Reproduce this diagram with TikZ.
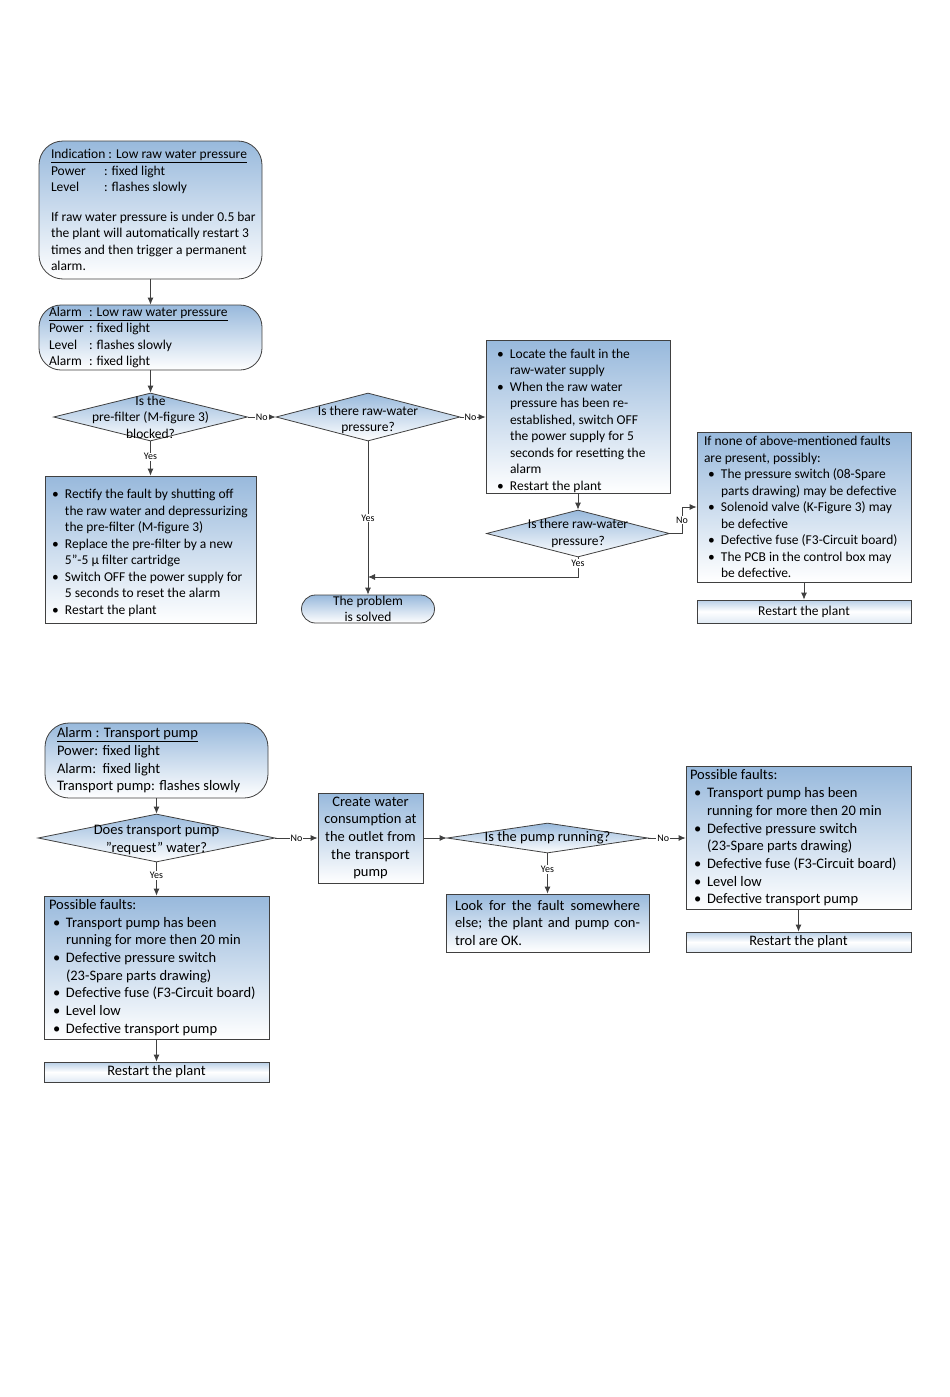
\documentclass[tikz,border=0pt]{standalone}
\usepackage{fontspec}
\setmainfont{Carlito}
\usetikzlibrary{shapes.geometric,arrows.meta}
\definecolor{boxblue}{RGB}{152,185,220}
\definecolor{edge}{RGB}{64,64,64}
\newcommand\upfont{\fontsize{13.5}{16.5}\selectfont}
\newcommand\lowfont{\fontsize{14.5}{17.7}\selectfont}
\newcommand\bul{\par\noindent\hangindent=17pt\hangafter=1\hbox to 17pt{\hskip4pt\textbullet\hfil}}
\begin{document}
\begin{tikzpicture}[x=1pt,y=-1pt,>={Latex[length=7pt,width=6pt]}]
  \tikzstyle{every node}=[inner ysep=1pt]
  \tikzstyle{box}=[draw=edge,line width=0.8pt,top color=boxblue,bottom color=white,align=left,execute at begin node={\spaceskip=0pt\xspaceskip=0pt}]
  \tikzstyle{rbox}=[box,rounded corners=24pt]
  \tikzstyle{decision}=[diamond,draw=edge,line width=0.8pt,top color=boxblue,bottom color=white,inner sep=0pt]
  \tikzstyle{restartbox}=[draw=edge,line width=0.8pt,top color=boxblue!70,bottom color=boxblue!30,middle color=white]
  \tikzstyle{yn}=[fill=white,inner sep=1pt,font=\fontsize{10}{11}\selectfont]
  \tikzstyle{link}=[->,draw=edge,line width=0.8pt]
  \fill[white] (0,0) rectangle (950,1397);

  \node[rbox,minimum width=223pt,minimum height=138pt,text width=199pt,inner xsep=12pt,font=\upfont] (indication) at (150.5,210) {\underline{Indication : Low raw water pressure}\\
    \makebox[53pt][l]{Power}: fixed light\\
    \makebox[53pt][l]{Level}: flashes slowly\\[13pt]
    \mbox{If raw water pressure is under 0.5 bar}\\
    the plant will automatically restart 3\\
    times and then trigger a permanent\\
    alarm.};
  \node[rbox,rounded corners=22pt,minimum width=223pt,minimum height=65pt,text width=203pt,inner xsep=10pt,inner ysep=0pt,font=\upfont] (alarm) at (150.5,337.5) {\underline{\makebox[40pt][l]{Alarm}: Low raw water pressure}\\
    \makebox[40pt][l]{Power}: fixed light\\
    \makebox[40pt][l]{Level}: flashes slowly\\
    \makebox[40pt][l]{Alarm}: fixed light};
  \node[decision,minimum width=194pt,minimum height=48pt,label={[font=\upfont,align=center]center:Is the\\pre-filter (M-figure 3)\\blocked?}] (filter) at (150.5,417) {};
  \node[decision,minimum width=184pt,minimum height=48pt,label={[font=\upfont,align=center,yshift=-3pt]center:Is there raw-water\\pressure?}] (pressure) at (368,417) {};
  \node[box,minimum width=184pt,minimum height=149pt,text width=170pt,inner xsep=7pt,font=\upfont] (locate) at (578,417) {\bul Locate the fault in the\newline raw-water supply
    \bul When the raw water\newline pressure has been re-\newline established, switch OFF\newline the power supply for 5\newline seconds for resetting the\newline alarm
    \bul Restart the plant\par};
  \node[decision,minimum width=183pt,minimum height=47pt,label={[font=\upfont,align=center]center:Is there raw-water\\pressure?}] (pressure2) at (578,533.5) {};
  \node[box,rounded corners=14pt,minimum width=133pt,minimum height=28pt,inner sep=0pt,label={[font=\upfont,align=center]center:The problem\\is solved}] (solved) at (368,609) {};
  \node[box,minimum width=211pt,minimum height=147pt,text width=205pt,inner xsep=3pt,font=\upfont] (rectify) at (150.5,549.5) {\bul Rectify the fault by shutting off\newline the raw water and depressurizing\newline the pre-filter (M-figure 3)
    \bul Replace the pre-filter by a new\newline 5”-5 µ filter cartridge
    \bul Switch OFF the power supply for\newline 5 seconds to reset the alarm
    \bul Restart the plant\par};
  \node[box,minimum width=214pt,minimum height=150pt,text width=200pt,inner xsep=7pt,font=\upfont] (nofault) at (804,507) {If none of above-mentioned faults\newline are present, possibly:
    \bul The pressure switch (08-Spare\newline parts drawing) may be defective
    \bul Solenoid valve (K-Figure 3) may\newline be defective
    \bul Defective fuse (F3-Circuit board)
    \bul The PCB in the control box may\newline be defective.\par};
  \node[restartbox,minimum width=214pt,minimum height=23pt,font=\upfont] (restart1) at (804,611.5) {Restart the plant};

  \draw[link] (indication) -- (alarm);
  \draw[link] (alarm) -- (filter);
  \draw[link] (filter) -- node[yn]{No} (pressure);
  \draw[link] (filter) -- node[yn,pos=0.45]{Yes} (rectify);
  \draw[link] (pressure) -- node[yn,pos=0.4]{No} (locate);
  \draw[link] (pressure) -- node[yn]{Yes} (solved);
  \draw[link] (locate) -- (pressure2);
  \draw[link] (pressure2.east) -- ++(12,0) |- node[yn,pos=0.25]{No} (nofault.west);
  \coordinate (join) at (368,577);
  \draw[link] (pressure2.south) |- node[yn,pos=0.15]{Yes} (join);
  \draw[link] (nofault) -- (restart1);

  \node[rbox,minimum width=223pt,minimum height=75pt,text width=199pt,inner xsep=12pt,inner ysep=0pt,font=\lowfont] (pumpalarm) at (156.5,760.5) {\underline{Alarm : Transport pump}\\
    Power: fixed light\\
    Alarm:\ \ fixed light\\
    Transport pump: flashes slowly};
  \node[decision,minimum width=237pt,minimum height=48pt,label={[font=\lowfont,align=center,yshift=-2pt]center:Does transport pump\\”request” water?}] (request) at (156.5,838) {};
  \node[box,minimum width=105pt,minimum height=90pt,text width=99pt,inner xsep=3pt,inner ysep=0pt,align=center,font=\lowfont] (create) at (370.5,838) {Create water\\ consumption at\\ the outlet from\\ the transport\\ pump};
  \node[decision,minimum width=201pt,minimum height=30pt,label={[font=\lowfont]center:Is the pump running?}] (running) at (547.5,838) {};
  \node[box,minimum width=225pt,minimum height=143pt,text width=217pt,inner xsep=4pt,font=\lowfont] (faultsR) at (798.5,838) {Possible faults:
    \bul Transport pump has been\newline running for more then 20 min
    \bul Defective pressure switch\newline (23-Spare parts drawing)
    \bul Defective fuse (F3-Circuit board)
    \bul Level low
    \bul Defective transport pump\par};
  \node[restartbox,minimum width=225pt,minimum height=20pt,inner ysep=0pt,font=\lowfont] (restart2) at (798.5,942) {Restart the plant};
  \node[box,minimum width=203pt,minimum height=58pt,text width=185pt,inner xsep=9pt,align=justify,font=\lowfont] (look) at (547.5,923) {Look for the fault somewhere\linebreak else; the plant and pump con-\linebreak trol are OK.};
  \node[box,minimum width=225pt,minimum height=143pt,text width=215pt,inner xsep=5pt,font=\lowfont] (faultsL) at (156.5,967.5) {Possible faults:
    \bul Transport pump has been\newline running for more then 20 min
    \bul Defective pressure switch\newline (23-Spare parts drawing)
    \bul Defective fuse (F3-Circuit board)
    \bul Level low
    \bul Defective transport pump\par};
  \node[restartbox,minimum width=225pt,minimum height=20pt,inner ysep=0pt,font=\lowfont] (restart3) at (156.5,1072) {Restart the plant};

  \draw[link] (pumpalarm) -- (request);
  \draw[link] (request) -- node[yn]{No} (create);
  \draw[link] (request) -- node[yn,pos=0.4]{Yes} (faultsL);
  \draw[link] (faultsL) -- (restart3);
  \draw[link] (create) -- (running);
  \draw[link] (running) -- node[yn,pos=0.4]{No} (faultsR);
  \draw[link] (running) -- node[yn,pos=0.4]{Yes} (look);
  \draw[link] (faultsR) -- (restart2);
\end{tikzpicture}
\end{document}
